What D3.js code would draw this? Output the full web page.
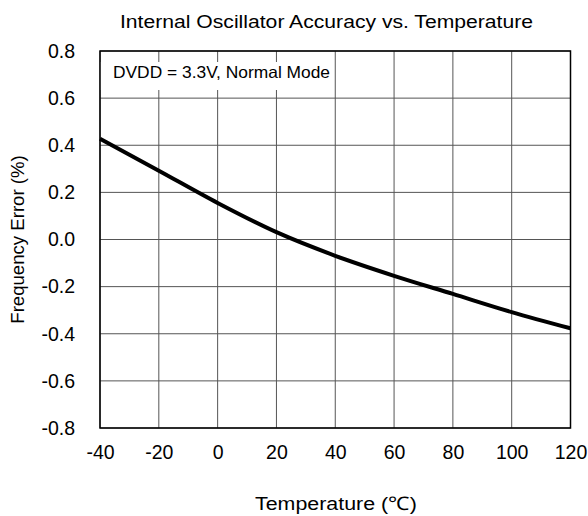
<!DOCTYPE html>
<html>
<head>
<meta charset="utf-8">
<script src="https://cdn.jsdelivr.net/npm/d3@7"></script>
<style>
  body { margin: 0; background: #fff; }
  svg { display: block; font-family: Arial, "Liberation Sans", sans-serif; }
</style>
</head>
<body>
<svg></svg>
<script>
const width = 588;
const height = 516;

// data
const temps = [-40, -20, 0, 20, 40, 60, 80, 100, 120];
const errors = [0.428, 0.292, 0.155, 0.031, -0.069, -0.154, -0.231, -0.308, -0.377];
const xTicks = [-40, -20, 0, 20, 40, 60, 80, 100, 120];
const yTicks = [-0.8, -0.6, -0.4, -0.2, 0, 0.2, 0.4, 0.6, 0.8];

const margin = { top: 51, right: 17.5, bottom: 88, left: 100 };
const w = width - margin.left - margin.right;
const h = height - margin.top - margin.bottom;

const svg = d3.select("svg")
  .attr("width", width)
  .attr("height", height);

const g = svg.append("g")
  .attr("transform", "translate(" + margin.left + "," + margin.top + ")");

const x = d3.scaleLinear().domain([-40, 120]).range([0, w]);
const y = d3.scaleLinear().domain([-0.8, 0.8]).range([h, 0]);

// grid
g.append("g").selectAll("line")
  .data(xTicks)
  .enter().append("line")
  .attr("x1", d => x(d)).attr("x2", d => x(d))
  .attr("y1", 0).attr("y2", h)
  .attr("stroke", "#555").attr("stroke-width", 1);

g.append("g").selectAll("line")
  .data(yTicks)
  .enter().append("line")
  .attr("x1", 0).attr("x2", w)
  .attr("y1", d => y(d)).attr("y2", d => y(d))
  .attr("stroke", "#555").attr("stroke-width", 1);

// annotation box hides the grid behind it
g.append("rect")
  .attr("x", 0).attr("y", 11)
  .attr("width", x(39)).attr("height", 28)
  .attr("fill", "#fff");

g.append("text")
  .attr("x", 13).attr("y", 27)
  .attr("font-size", 16.5)
  .attr("textLength", 217)
  .attr("lengthAdjust", "spacingAndGlyphs")
  .attr("fill", "#000")
  .text("DVDD = 3.3V, Normal Mode");

// frame
g.append("rect")
  .attr("width", w).attr("height", h)
  .attr("fill", "none").attr("stroke", "#000").attr("stroke-width", 1.5);

// axis labels via d3 axes, lines hidden; plain hyphen for negatives
const hyphen = f => d => f(d).replace("\u2212", "-");
const xAxis = g.append("g")
  .attr("transform", "translate(0," + h + ")")
  .call(d3.axisBottom(x).tickValues(xTicks).tickSize(0).tickPadding(17).tickFormat(hyphen(d3.format("d"))));
const yAxis = g.append("g")
  .call(d3.axisLeft(y).tickValues(yTicks).tickSize(0).tickPadding(25).tickFormat(hyphen(d3.format(".1f"))));

[xAxis, yAxis].forEach(a => {
  a.select(".domain").remove();
  a.selectAll("text")
    .attr("font-family", "Arial, 'Liberation Sans', sans-serif")
    .attr("font-size", 19.5)
    .attr("fill", "#000");
});

// curve
const line = d3.line()
  .x((d, i) => x(temps[i]))
  .y(d => y(d))
  .curve(d3.curveMonotoneX);

g.append("path")
  .datum(errors)
  .attr("d", line)
  .attr("fill", "none")
  .attr("stroke", "#000")
  .attr("stroke-width", 4);

// titles
svg.append("text")
  .attr("x", 120).attr("y", 28)
  .attr("font-size", 18.7)
  .attr("textLength", 413)
  .attr("lengthAdjust", "spacingAndGlyphs")
  .text("Internal Oscillator Accuracy vs. Temperature");

svg.append("text")
  .attr("x", 255).attr("y", 510)
  .attr("font-size", 18.7)
  .attr("textLength", 162)
  .attr("lengthAdjust", "spacingAndGlyphs")
  .text("Temperature (\u2103)");

svg.append("text")
  .attr("transform", "translate(23.5," + (margin.top + h / 2) + ") rotate(-90)")
  .attr("text-anchor", "middle")
  .attr("font-size", 18.6)
  .text("Frequency Error (%)");
</script>
</body>
</html>
